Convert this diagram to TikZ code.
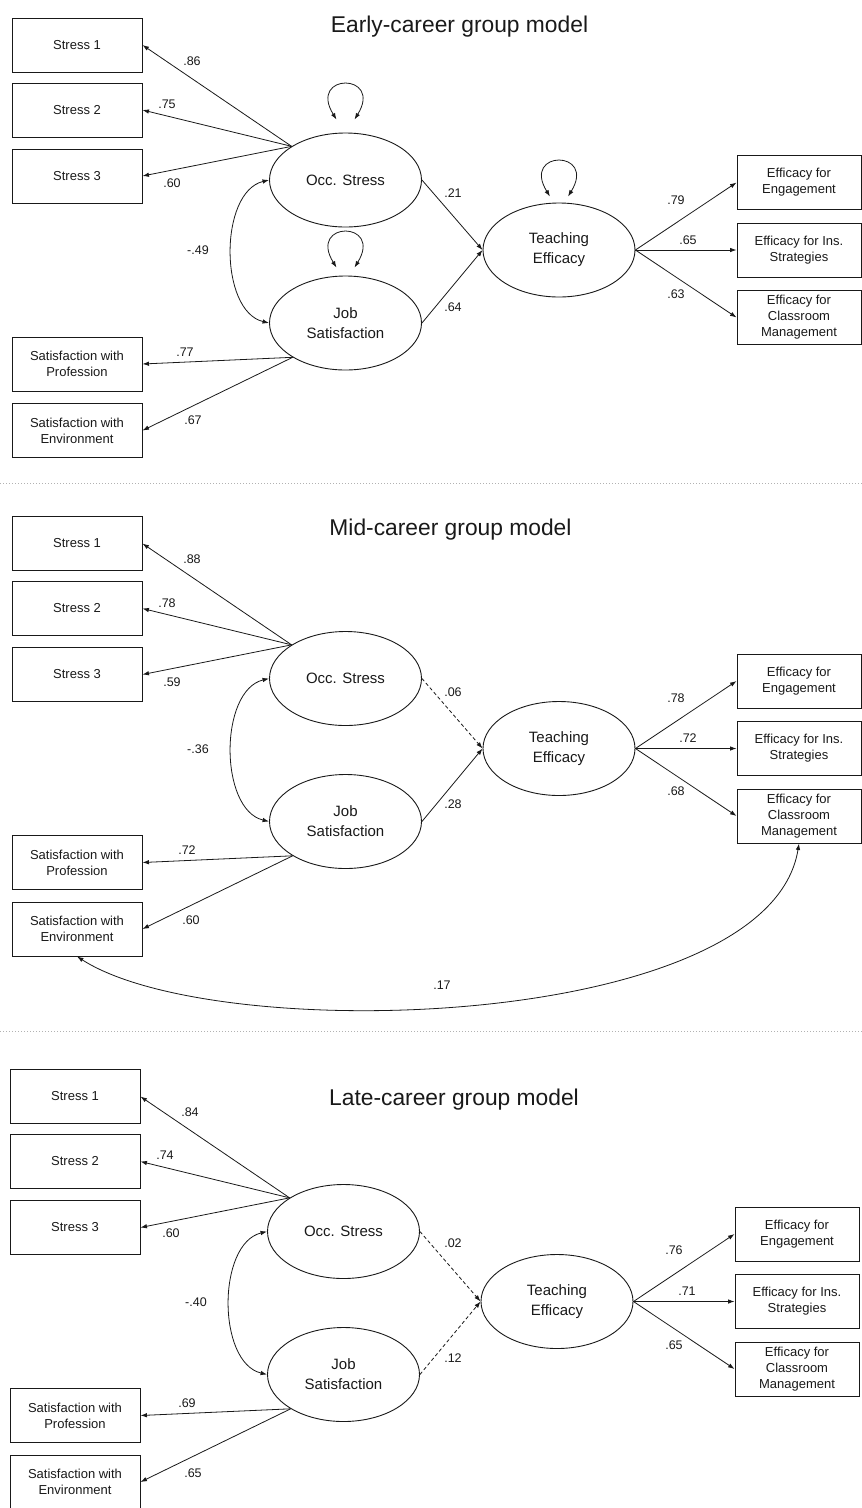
\documentclass[tikz,border=0pt]{standalone}
\usepackage{fontspec}
\setmainfont{Liberation Sans}
\usetikzlibrary{shapes, arrows.meta, positioning}

\tikzset{
	ind/.style={draw, line width=0.9pt, minimum width=130pt, minimum height=54pt,
		inner sep=0pt, align=center, font=\fontsize{13}{16}\selectfont},
	eff/.style={ind, minimum width=124pt},
	lat/.style={draw, ellipse, line width=0.9pt, minimum width=152pt, minimum height=94pt,
		inner sep=0pt, align=center, font=\fontsize{15}{20}\selectfont},
	wt/.style={inner sep=0pt, font=\fontsize{12.5}{14}\selectfont},
	ttl/.style={anchor=base, font=\fontsize{22.8}{27}\selectfont},
	arr/.style={->, line width=0.8pt},
	ns/.style={arr, dash pattern=on 3.5pt off 2.5pt},
	cov/.style={<->, line width=0.8pt},
	sep/.style={gray!60, line width=0.8pt, dash pattern=on 1pt off 2pt},
	>={Latex[length=6.5pt, width=4.5pt]}
}

\begin{document}
\begin{tikzpicture}[x=1pt, y=-1pt, color=black!90]
	\useasboundingbox (0,0) rectangle (862,1508);
	
	%% Early-career
	\node[ttl] (tite) at (459.5,32) {Early-career group model};
	\node[ind] (s1e) at (77,45) {Stress 1};
	\node[ind] (s2e) at (77,110) {Stress 2};
	\node[ind] (s3e) at (77,176) {Stress 3};
	\node[ind] (profe) at (77,364) {Satisfaction with\\Profession};
	\node[ind] (enve) at (77,430.5) {Satisfaction with\\Environment};
	\node[lat] (occe) at (345.5,180) {Occ. Stress};
	\node[lat] (jobe) at (345.5,323) {Job\\Satisfaction};
	\node[lat] (tee) at (559,250) {Teaching\\Efficacy};
	\node[eff] (enge) at (799,182.5) {Efficacy for\\Engagement};
	\node[eff] (inse) at (799,250) {Efficacy for Ins.\\Strategies};
	\node[eff] (clae) at (799,317.5) {Efficacy for\\Classroom\\Management};
	
	\draw[arr] (occe.148) -- (s1e.east);
	\draw[arr] (occe.148) -- (s2e.east);
	\draw[arr] (occe.148) -- (s3e.east);
	\draw[arr] (jobe.213) -- (profe.east);
	\draw[arr] (jobe.213) -- (enve.east);
	\draw[cov] (occe.west) .. controls +(-50,12) and +(-50,-12) .. (jobe.west);
	\draw[arr] (occe.east) -- (tee.west);
	\draw[arr] (jobe.east) -- (tee.west);
	\draw[arr] (tee.east) -- (enge.west);
	\draw[arr] (tee.east) -- (inse.west);
	\draw[arr] (tee.east) -- (clae.west);
	
	%% residuos
	\draw[cov] ([shift={(-9,-13)}]occe.north) .. controls +(-29,-47) and +(29,-47) .. ([shift={(9,-13)}]occe.north);
	\draw[cov] ([shift={(-9,-8)}]jobe.north) .. controls +(-29,-47) and +(29,-47) .. ([shift={(9,-8)}]jobe.north);
	\draw[cov] ([shift={(-9,-6)}]tee.north) .. controls +(-29,-47) and +(29,-47) .. ([shift={(9,-6)}]tee.north);
	
	\node[wt] (w1e) at (192,61) {.86};
	\node[wt] (w2e) at (167,104) {.75};
	\node[wt] (w3e) at (172,183) {.60};
	\node[wt] (rje) at (198,250) {-.49};
	\node[wt] (poe) at (453,193) {.21};
	\node[wt] (pje) at (453,307) {.64};
	\node[wt] (w4e) at (676,200) {.79};
	\node[wt] (w5e) at (688,240) {.65};
	\node[wt] (w6e) at (676,294) {.63};
	\node[wt] (w7e) at (185,352) {.77};
	\node[wt] (w8e) at (193,420) {.67};
	
	\draw[sep] (0,483) -- (862,483);
	
	%% Mid-career
	\begin{scope}[shift={(0,498.5)}]
		\node[ttl] (titm) at (450.5,36.5) {Mid-career group model};
		\node[ind] (s1m) at (77,45) {Stress 1};
		\node[ind] (s2m) at (77,110) {Stress 2};
		\node[ind] (s3m) at (77,176) {Stress 3};
		\node[ind] (profm) at (77,364) {Satisfaction with\\Profession};
		\node[ind] (envm) at (77,430.5) {Satisfaction with\\Environment};
		\node[lat] (occm) at (345.5,180) {Occ. Stress};
		\node[lat] (jobm) at (345.5,323) {Job\\Satisfaction};
		\node[lat] (tem) at (559,250) {Teaching\\Efficacy};
		\node[eff] (engm) at (799,182.5) {Efficacy for\\Engagement};
		\node[eff] (insm) at (799,250) {Efficacy for Ins.\\Strategies};
		\node[eff] (clam) at (799,317.5) {Efficacy for\\Classroom\\Management};
		
		\draw[arr] (occm.148) -- (s1m.east);
		\draw[arr] (occm.148) -- (s2m.east);
		\draw[arr] (occm.148) -- (s3m.east);
		\draw[arr] (jobm.213) -- (profm.east);
		\draw[arr] (jobm.213) -- (envm.east);
		\draw[cov] (occm.west) .. controls +(-50,12) and +(-50,-12) .. (jobm.west);
		\draw[ns] (occm.east) -- (tem.west);
		\draw[arr] (jobm.east) -- (tem.west);
		\draw[arr] (tem.east) -- (engm.west);
		\draw[arr] (tem.east) -- (insm.west);
		\draw[arr] (tem.east) -- (clam.west);
		\draw[cov] (envm.south) .. controls +(140,90) and +(-30,187) .. (clam.south);
		
		\node[wt] (w1m) at (192,60.5) {.88};
		\node[wt] (w2m) at (167,104.5) {.78};
		\node[wt] (w3m) at (172,183.5) {.59};
		\node[wt] (rjm) at (198,250.5) {-.36};
		\node[wt] (pom) at (453,193.5) {.06};
		\node[wt] (pjm) at (453,305.5) {.28};
		\node[wt] (w4m) at (676,199.5) {.78};
		\node[wt] (w5m) at (688,239.5) {.72};
		\node[wt] (w6m) at (676,292.5) {.68};
		\node[wt] (w7m) at (187,351.5) {.72};
		\node[wt] (w8m) at (191,421.5) {.60};
		\node[wt] (rcm) at (442,486.5) {.17};
	\end{scope}
	
	\draw[sep] (0,1031) -- (862,1031);
	
	%% Late-career
	\begin{scope}[shift={(-2,1051.5)}]
		\node[ttl] (titl) at (456,53.5) {Late-career group model};
		\node[ind] (s1l) at (77,45) {Stress 1};
		\node[ind] (s2l) at (77,110) {Stress 2};
		\node[ind] (s3l) at (77,176) {Stress 3};
		\node[ind] (profl) at (77,364) {Satisfaction with\\Profession};
		\node[ind] (envl) at (77,430.5) {Satisfaction with\\Environment};
		\node[lat] (occl) at (345.5,180) {Occ. Stress};
		\node[lat] (jobl) at (345.5,323) {Job\\Satisfaction};
		\node[lat] (tel) at (559,250) {Teaching\\Efficacy};
		\node[eff] (engl) at (799,182.5) {Efficacy for\\Engagement};
		\node[eff] (insl) at (799,250) {Efficacy for Ins.\\Strategies};
		\node[eff] (clal) at (799,317.5) {Efficacy for\\Classroom\\Management};
		
		\draw[arr] (occl.148) -- (s1l.east);
		\draw[arr] (occl.148) -- (s2l.east);
		\draw[arr] (occl.148) -- (s3l.east);
		\draw[arr] (jobl.213) -- (profl.east);
		\draw[arr] (jobl.213) -- (envl.east);
		\draw[cov] (occl.west) .. controls +(-50,12) and +(-50,-12) .. (jobl.west);
		\draw[ns] (occl.east) -- (tel.west);
		\draw[ns] (jobl.east) -- (tel.west);
		\draw[arr] (tel.east) -- (engl.west);
		\draw[arr] (tel.east) -- (insl.west);
		\draw[arr] (tel.east) -- (clal.west);
		
		\node[wt] (w1l) at (192,60.5) {.84};
		\node[wt] (w2l) at (167,103.5) {.74};
		\node[wt] (w3l) at (173,181.5) {.60};
		\node[wt] (rjl) at (198,250.5) {-.40};
		\node[wt] (pol) at (455,191.5) {.02};
		\node[wt] (pjl) at (455,306.5) {.12};
		\node[wt] (w4l) at (676,198.5) {.76};
		\node[wt] (w5l) at (689,239.5) {.71};
		\node[wt] (w6l) at (676,293.5) {.65};
		\node[wt] (w7l) at (189,351.5) {.69};
		\node[wt] (w8l) at (195,421.5) {.65};
	\end{scope}
\end{tikzpicture}
\end{document}
